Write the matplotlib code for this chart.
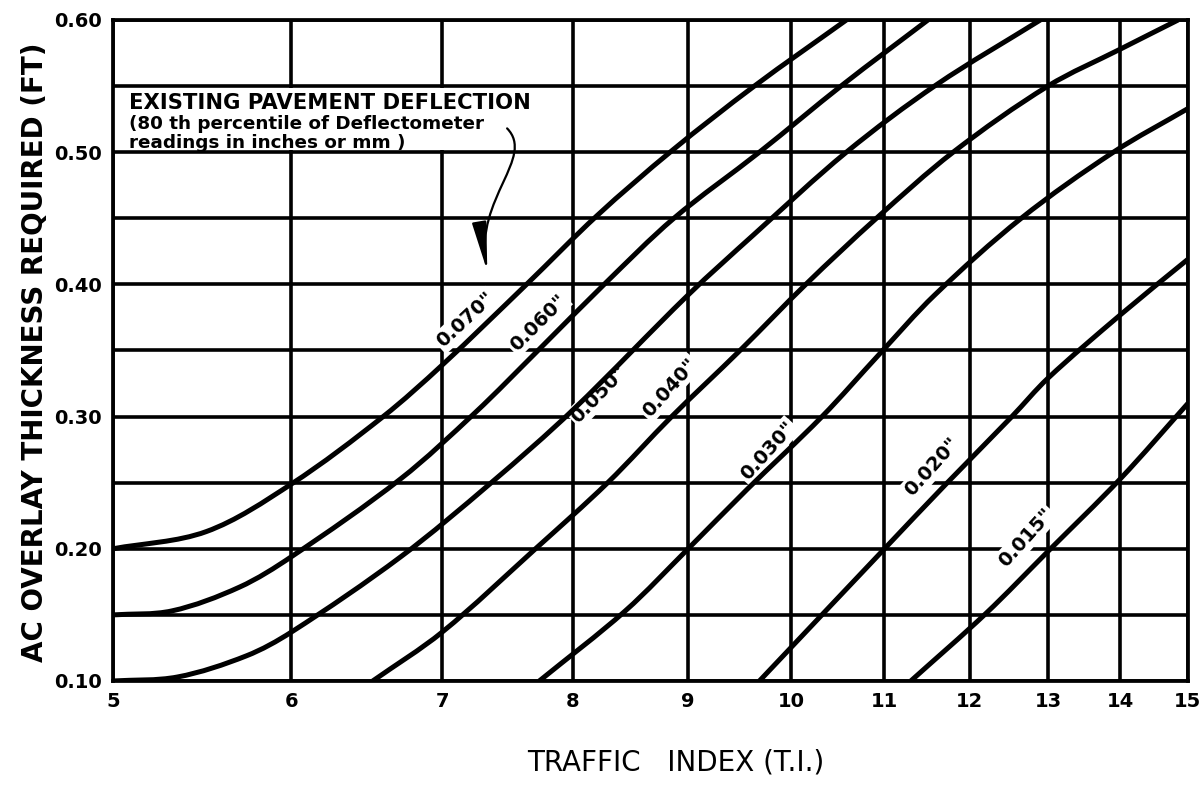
import numpy as np
import matplotlib
matplotlib.use("Agg")
import matplotlib.pyplot as plt
from matplotlib.path import Path
from matplotlib.patches import FancyArrowPatch, Rectangle, PathPatch
from matplotlib.ticker import NullLocator

# Traffic index (x) and required AC overlay thickness in feet (y)
# for each existing pavement deflection (80th percentile, inches).
ti_070 = [5.0, 5.5, 6.0, 6.59, 7.0, 7.63, 8.2, 8.85, 9.63, 10.58]
t_070 = [0.200, 0.213, 0.249, 0.300, 0.339, 0.400, 0.452, 0.501, 0.550, 0.600]

ti_060 = [5.0, 5.31, 5.69, 6.0, 6.71, 7.24, 7.72, 8.26, 8.87, 9.68, 10.54, 11.5]
t_060 = [0.150, 0.153, 0.171, 0.194, 0.253, 0.303, 0.350, 0.400, 0.450, 0.500, 0.551, 0.600]

ti_050 = [5.0, 5.34, 5.73, 6.0, 6.71, 7.36, 8.0, 9.0, 9.63, 10.58, 11.6, 12.9]
t_050 = [0.100, 0.103, 0.119, 0.137, 0.194, 0.250, 0.305, 0.392, 0.438, 0.500, 0.551, 0.600]

ti_040 = [6.52, 7.0, 7.70, 8.29, 8.85, 9.49, 10.15, 10.91, 11.8, 13.0, 14.0, 14.85]
t_040 = [0.100, 0.137, 0.200, 0.250, 0.300, 0.350, 0.400, 0.450, 0.500, 0.550, 0.578, 0.600]

ti_030 = [7.73, 8.44, 9.0, 9.56, 10.32, 10.94, 11.58, 12.65, 13.9, 15.0]
t_030 = [0.100, 0.153, 0.200, 0.245, 0.300, 0.347, 0.392, 0.450, 0.500, 0.533]

ti_020 = [9.68, 11.0, 11.73, 12.53, 13.0, 14.0, 15.0]
t_020 = [0.100, 0.200, 0.250, 0.300, 0.329, 0.377, 0.419]

ti_015 = [11.3, 12.2, 13.0, 14.0, 15.0]
t_015 = [0.100, 0.151, 0.198, 0.253, 0.310]

curve_names = ['0.070"', '0.060"', '0.050"', '0.040"', '0.030"', '0.020"', '0.015"']
curves = [(ti_070, t_070), (ti_060, t_060), (ti_050, t_050), (ti_040, t_040),
          (ti_030, t_030), (ti_020, t_020), (ti_015, t_015)]

# Where each deflection label sits along its curve (TI, thickness, angle)
label_ti = [7.17, 7.72, 8.22, 8.83, 9.76, 11.55, 12.71]
label_t = [0.373, 0.371, 0.317, 0.322, 0.274, 0.262, 0.208]
label_rot = [43, 45, 46, 48, 48, 48, 48]

ti_ticks = [5, 6, 7, 8, 9, 10, 11, 12, 13, 14, 15]
t_major = [0.10, 0.20, 0.30, 0.40, 0.50, 0.60]
t_major_labels = ["0.10", "0.20", "0.30", "0.40", "0.50", "0.60"]
t_minor = [0.15, 0.25, 0.35, 0.45, 0.55]

fig = plt.figure(figsize=(12.02, 7.90), dpi=100)
ax = fig.add_axes([0.0940, 0.1380, 0.8943, 0.8367])

ax.set_xscale("log")
ax.set_xlim(5, 15)
ax.set_ylim(0.10, 0.60)
ax.set_xticks(ti_ticks, labels=[str(v) for v in ti_ticks])
ax.xaxis.set_minor_locator(NullLocator())
ax.set_yticks(t_major, labels=t_major_labels)
ax.set_yticks(t_minor, minor=True)

ax.set_axisbelow(True)
ax.grid(which="both", color="black", lw=2.6)
for s in ax.spines.values():
    s.set_linewidth(2.7)
ax.tick_params(which="both", length=0)
ax.tick_params(axis="x", pad=8, labelsize=14)
ax.tick_params(axis="y", pad=8, labelsize=14)
for lab in ax.get_xticklabels() + ax.get_yticklabels():
    lab.set_fontweight("bold")


def smooth_curve(xs, ys):
    """Smooth Bezier path through the given points (built in screen space)."""
    P = ax.transData.transform(np.column_stack([xs, ys]))
    d = np.hypot(*np.diff(P, axis=0).T)
    u = np.concatenate([[0.0], np.cumsum(d)])
    M = np.empty_like(P)
    M[0] = (P[1] - P[0]) / (u[1] - u[0])
    M[-1] = (P[-1] - P[-2]) / (u[-1] - u[-2])
    for i in range(1, len(P) - 1):
        M[i] = (P[i + 1] - P[i - 1]) / (u[i + 1] - u[i - 1])
    verts = [P[0]]
    codes = [Path.MOVETO]
    for i in range(len(P) - 1):
        h = u[i + 1] - u[i]
        verts += [P[i] + M[i] * h / 3, P[i + 1] - M[i + 1] * h / 3, P[i + 1]]
        codes += [Path.CURVE4] * 3
    return Path(ax.transData.inverted().transform(np.array(verts)), codes)


# Design curves
for ti, t in curves:
    ax.add_patch(PathPatch(smooth_curve(ti, t), fill=False, edgecolor="black", lw=3.6,
                           capstyle="butt", joinstyle="round", zorder=3))

# Curve labels, each blanking the grid behind it
for name, x, y, r in zip(curve_names, label_ti, label_t, label_rot):
    ax.text(x, y, name, rotation=r, rotation_mode="anchor", ha="center", va="center",
            fontsize=14, fontweight="bold", zorder=2,
            bbox=dict(facecolor="white", edgecolor="none", pad=1.5))

# Note box in the upper left panel
ax.add_patch(Rectangle((5.0, 0.5018), 7.7 - 5.0, 0.0464, facecolor="white",
                       edgecolor="none", zorder=1.5))
ax.text(5.08, 0.5375, "EXISTING PAVEMENT DEFLECTION", fontsize=15.2,
        fontweight="bold", ha="left", va="center", zorder=2)
ax.text(5.08, 0.521, "(80 th percentile of Deflectometer", fontsize=13.2,
        fontweight="bold", ha="left", va="center", zorder=2)
ax.text(5.08, 0.507, "readings in inches or mm )", fontsize=13.2,
        fontweight="bold", ha="left", va="center", zorder=2)

# Pointer from the note down to the curve labels
arrow_path = Path([(7.48, 0.518), (7.70, 0.496), (7.24, 0.465), (7.33, 0.410)],
                  [Path.MOVETO, Path.CURVE4, Path.CURVE4, Path.CURVE4])
ax.add_patch(FancyArrowPatch(path=arrow_path, arrowstyle="-|>,head_length=1.5,head_width=0.22",
                             mutation_scale=20, lw=1.6, color="black",
                             transform=ax.transData, zorder=4))

fig.text(676 / 1202, 1 - 762 / 790, "TRAFFIC   INDEX (T.I.)", ha="center", va="center",
         fontsize=20)
fig.text(35 / 1202, 1 - 352 / 790, "AC OVERLAY THICKNESS REQUIRED (FT)", rotation=90,
         ha="center", va="center", fontsize=20, fontweight="bold")

fig.savefig("out.png", dpi=100, facecolor="white")
